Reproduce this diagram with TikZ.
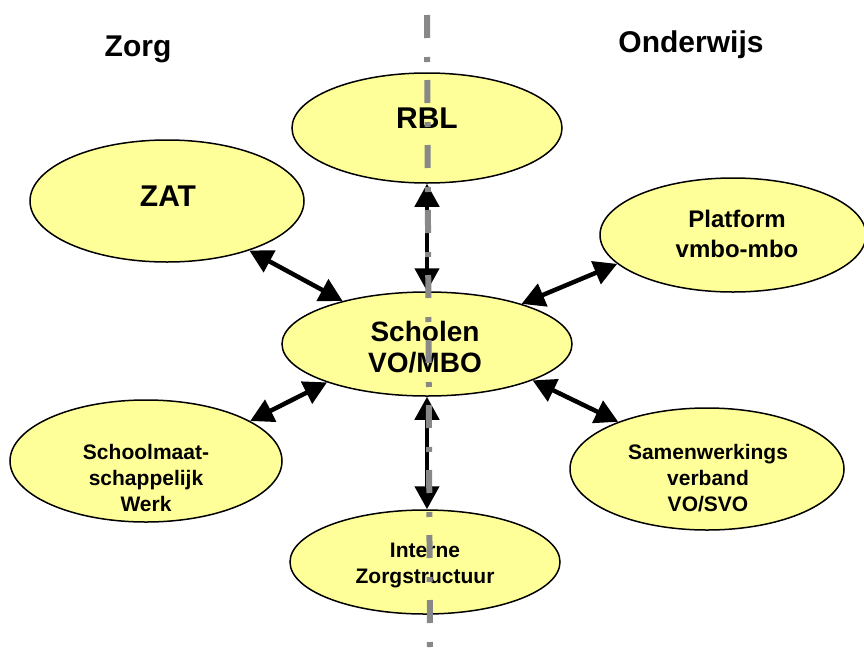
\documentclass[tikz,border=0pt]{standalone}
\usepackage{fontspec}
\setmainfont{Liberation Sans}
\usepackage{tikz}
\usetikzlibrary{arrows.meta,shapes.geometric}

\definecolor{bubblefill}{RGB}{255,255,153}
\definecolor{axisgray}{RGB}{136,136,136}

\tikzset{
  bubble/.style={ellipse,draw,line width=1.5pt,fill=bubblefill,inner sep=0pt},
  txt/.style={align=center,inner sep=0pt},
  huge/.style={txt,font=\bfseries\fontsize{30}{34}\selectfont},
  large/.style={txt,font=\bfseries\fontsize{28}{31}\selectfont},
  medium/.style={txt,font=\bfseries\fontsize{24}{30}\selectfont},
  small/.style={txt,font=\bfseries\fontsize{21}{26}\selectfont},
  link/.style={<->,line width=4.5pt},
  divider/.style={draw=axisgray,line width=6pt,dash pattern=on 23pt off 19pt on 5pt off 18pt}
}

\begin{document}
\begin{tikzpicture}[x=1pt,y=-1pt,>={Triangle[length=23pt,width=24pt]}]
	\useasboundingbox (0,0) rectangle (864,648);
	
	% the bubbles
	\node[bubble,minimum width=270,minimum height=110] (rbl) at (427,128) {};
	\node[bubble,minimum width=274,minimum height=122] (zat) at (167,201) {};
	\node[bubble,minimum width=266,minimum height=114] (platform) at (733,235) {};
	\node[bubble,minimum width=290,minimum height=104] (scholen) at (427,344) {};
	\node[bubble,minimum width=272,minimum height=122] (werk) at (146,461) {};
	\node[bubble,minimum width=274,minimum height=122] (svo) at (707,469) {};
	\node[bubble,minimum width=270,minimum height=104] (interne) at (425,562) {};
	
	% the texts
	\node[huge] (zorg-t) at (138,49) {Zorg};
	\node[huge] (onderwijs-t) at (691,45) {Onderwijs};
	\node[huge] (rbl-t) at (427,118) {RBL};
	\node[huge] (zat-t) at (168,196) {ZAT};
	\node[medium] (platform-t) at (737,234) {Platform\\vmbo-mbo};
	\node[large] (scholen-t) at (425,347) {Scholen\\VO/MBO};
	\node[small] (werk-t) at (146,478) {Schoolmaat-\\schappelijk\\Werk};
	\node[small] (svo-t) at (708,478) {Samenwerkings\\verband\\VO/SVO};
	\node[small] (interne-t) at (425,565) {Interne\\Zorgstructuur};
	
	% the links
	\draw[link] (zat.-31) -- (scholen.153);
	\draw[link] (platform.194) -- (scholen.23);
	\draw[link] (werk.21) -- (scholen.201);
	\draw[link] (svo.152) -- (scholen.-19);
	\draw[link] (rbl.south) -- (scholen.north);
	\draw[link] (scholen.south) -- (scholen.south |- interne.north);
	
	% zorg | onderwijs
	\coordinate (divtop) at (427,15);
	\coordinate (divbottom) at (430,648);
	\draw[divider] (divtop) -- (divbottom);
\end{tikzpicture}
\end{document}
